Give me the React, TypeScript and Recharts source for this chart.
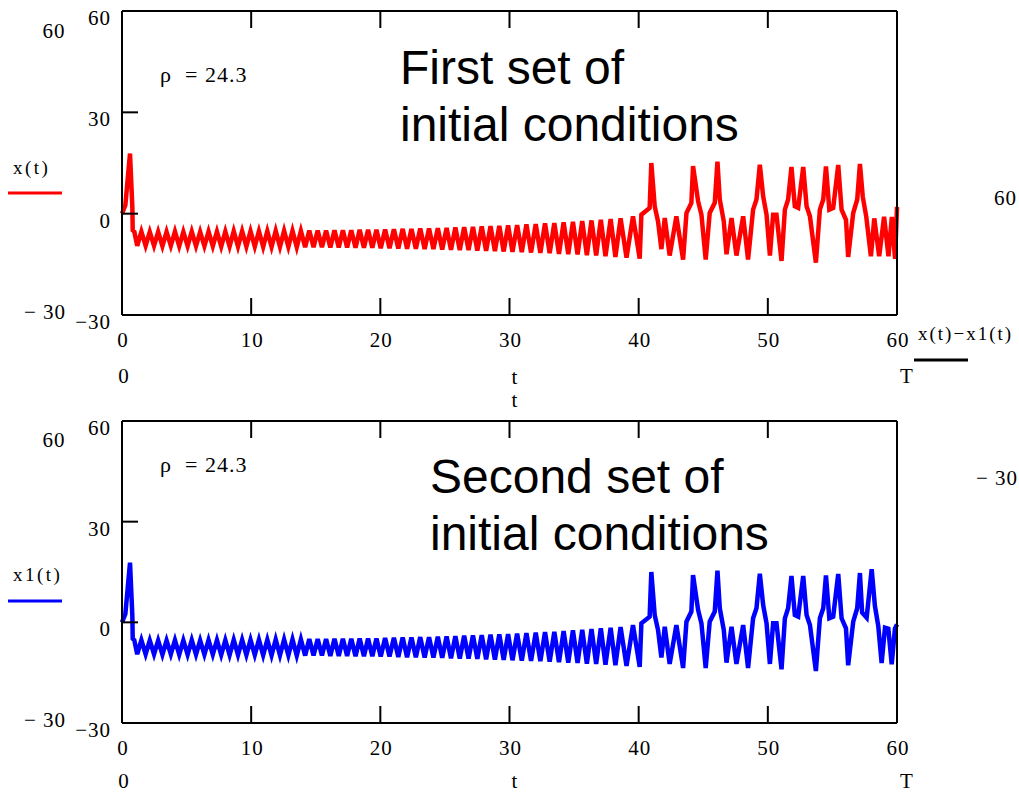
import { LineChart, Line, XAxis, YAxis } from "recharts"

const SERIF = "'Liberation Serif', 'Times New Roman', serif"
const SANS = "'Liberation Sans', Arial, sans-serif"

const xTicks = [0, 10, 20, 30, 40, 50, 60]
const yTicks = [-30, 0, 30, 60]

// [t, x]
const launch: [number, number][] = [
  [0, 0], [0.26, 2.5], [0.62, 17.8], [0.8, 2], [0.83, -4.9], [0.95, -5.3],
]

const spiral: [number, number][] = [
  [1.18, -9.5], [1.5, -5.3], [1.83, -9.5], [2.15, -5.4], [2.48, -9.5], [2.8, -5.4],
  [3.13, -9.6], [3.45, -5.4], [3.78, -9.5], [4.1, -5.3], [4.43, -9.6], [4.75, -5.4],
  [5.08, -9.6], [5.4, -5.3], [5.73, -9.6], [6.05, -5.4], [6.38, -9.6], [6.7, -5.3],
  [7.03, -9.6], [7.35, -5.3], [7.68, -9.7], [8.0, -5.3], [8.33, -9.7], [8.65, -5.2],
  [8.98, -9.7], [9.3, -5.2], [9.63, -9.7], [9.95, -5.2], [10.28, -9.7], [10.6, -5.2],
  [10.93, -9.8], [11.25, -5.2], [11.58, -9.8], [11.9, -5.1], [12.23, -9.8], [12.55, -5.1],
  [12.88, -9.8], [13.2, -5.1], [13.53, -9.9], [13.85, -5.1], [14.18, -9.9], [14.5, -5.0],
  [14.83, -9.9], [15.15, -5.0], [15.48, -9.9], [15.8, -5.0], [16.13, -10.0], [16.45, -4.9],
  [16.78, -10.0], [17.1, -4.9], [17.43, -10.0], [17.75, -4.9], [18.08, -10.1], [18.4, -4.8],
  [18.73, -10.1], [19.05, -4.8], [19.38, -10.1], [19.7, -4.8], [20.03, -10.2], [20.37, -4.7],
  [20.71, -10.2], [21.05, -4.6], [21.39, -10.3], [21.73, -4.5], [22.07, -10.4], [22.41, -4.5],
  [22.75, -10.4], [23.09, -4.4], [23.43, -10.5], [23.77, -4.4], [24.11, -10.5], [24.45, -4.3],
  [24.79, -10.6], [25.13, -4.2], [25.47, -10.7], [25.81, -4.1], [26.15, -10.8], [26.49, -4.0],
  [26.83, -10.8], [27.17, -3.9], [27.51, -10.9], [27.85, -3.8], [28.19, -11.0], [28.53, -3.7],
  [28.87, -11.1], [29.21, -3.6], [29.55, -11.2], [29.89, -3.5], [30.23, -11.3], [30.59, -3.4],
  [30.95, -11.4], [31.31, -3.2], [31.67, -11.5], [32.03, -3.1], [32.39, -11.6], [32.75, -2.9],
  [33.11, -11.7], [33.47, -2.8], [33.83, -11.9], [34.19, -2.6], [34.55, -12.0], [34.91, -2.4],
  [35.27, -12.1], [35.63, -2.2], [35.99, -12.3], [36.35, -2.0], [36.71, -12.4], [37.07, -1.8],
  [37.43, -12.6], [37.83, -1.6], [38.2, -12.8], [38.6, -1.4], [39.06, -13.0], [39.56, -0.8],
  [40.08, -13.3],
]

const chaos: [number, number][] = [
  [40.21, -0.3], [40.85, 1.7], [40.98, 15.0], [41.24, 2.2], [41.5, -2.3], [41.76, -10.5],
  [42.02, -1.3], [42.4, -12.4], [42.92, -0.8], [43.44, -13.6], [43.7, 0.2], [44.08, 3.2],
  [44.21, 14.1], [44.6, 3.7], [44.86, -0.3], [45.19, -13.6], [45.5, 0.2], [45.89, 3.2],
  [46.1, 15.4], [46.28, 4.2], [46.59, -2.3], [46.8, -12.0], [47.19, -1.3], [47.57, -12.4],
  [48.09, -0.8], [48.47, -13.6], [48.86, 1.2], [49.12, 4.2], [49.38, 14.5], [49.64, 5.1],
  [49.9, -0.3], [50.16, -12.4], [50.41, -0.3], [50.67, -0.3], [51.06, -14.0], [51.32, 1.2],
  [51.57, 4.2], [51.83, 13.8], [52.09, 2.2], [52.35, 1.7], [52.74, 13.8], [53.0, 2.2],
  [53.26, -0.8], [53.72, -14.5], [54.03, 1.2], [54.29, 4.2], [54.5, 14.0], [54.76, 1.2],
  [55.06, 1.7], [55.45, 14.4], [55.71, 1.2], [56.05, -1.8], [56.22, -12.8], [56.61, 0.2],
  [56.92, 4.2], [57.13, 14.7],
]

const tailRed: [number, number][] = [
  [57.35, 5.0], [57.62, -0.9], [57.98, -12.6], [58.24, -1.4], [58.62, -12.6], [59.0, -0.9],
  [59.34, -12.6], [59.6, -1.0], [59.85, -13.4], [60, 2.0],
]

const tailBlue: [number, number][] = [
  [57.3, 2.9], [57.65, 1.4], [58.04, 15.8], [58.29, 4.9], [58.55, -1.1], [58.81, -12.1],
  [59.07, -1.6], [59.33, -1.9], [59.59, -12.5], [59.84, -1.9], [60, -0.6],
]

const toRows = (pts: [number, number][]) => pts.map(([t, x]) => ({ t, x }))
const redData = toRows([...launch, ...spiral, ...chaos, ...tailRed])
const blueData = toRows([...launch, ...spiral, ...chaos, ...tailBlue])

const fmt = (v: number) => (v < 0 ? `\u2212${-v}` : `${v}`)

const NUM = { fontSize: 21, fontFamily: SERIF, letterSpacing: 1, fill: "#000" }

const BottomTick = (p: any) => {
  const v = p.payload.value
  return (
    <g>
      {v > 0 && v < 60 && <line x1={p.x} x2={p.x} y1={p.y} y2={p.y - 17} stroke="#000" strokeWidth={2} />}
      <text x={p.x + 1} y={p.y + 32} textAnchor="middle" {...NUM}>
        {fmt(v)}
      </text>
    </g>
  )
}

const TopTick = (p: any) => {
  const v = p.payload.value
  if (v <= 0 || v >= 60) return <g />
  return <line x1={p.x} x2={p.x} y1={p.y} y2={p.y + 17} stroke="#000" strokeWidth={2} />
}

const LeftTick = (p: any) => {
  const v = p.payload.value
  return (
    <g>
      {v > -30 && v < 60 && <line x1={p.x} x2={p.x + 16} y1={p.y} y2={p.y} stroke="#000" strokeWidth={2} />}
      <text x={p.x - 11} y={p.y + 14} textAnchor="end" {...NUM}>
        {fmt(v)}
      </text>
    </g>
  )
}

const RightTick = (p: any) => {
  const v = p.payload.value
  if (v <= -30 || v >= 60) return <g />
  return <line x1={p.x} x2={p.x - 16} y1={p.y} y2={p.y} stroke="#000" strokeWidth={2} />
}

const frame = { stroke: "#000", strokeWidth: 2 }

// axes are 1px thick, so margins are one less than the plot-area edges
function Panel({ data, color, height, top, bottom }: any) {
  return (
    <LineChart width={1019} height={height} data={data} margin={{ top: top - 1, right: 121, bottom: bottom - 1, left: 121 }}>
      <XAxis xAxisId="b" type="number" dataKey="t" domain={[0, 60]} ticks={xTicks} interval={0}
        height={1} tickSize={0} tickMargin={0} tickLine={false} axisLine={frame} tick={BottomTick} />
      <XAxis xAxisId="top" orientation="top" type="number" dataKey="t" domain={[0, 60]} ticks={xTicks}
        interval={0} height={1} tickSize={0} tickMargin={0} tickLine={false} axisLine={frame} tick={TopTick} />
      <YAxis yAxisId="l" type="number" domain={[-30, 60]} ticks={yTicks} interval={0} width={1}
        tickSize={0} tickMargin={0} tickLine={false} axisLine={frame} tick={LeftTick} />
      <YAxis yAxisId="r" orientation="right" type="number" domain={[-30, 60]} ticks={yTicks} interval={0}
        width={1} tickSize={0} tickMargin={0} tickLine={false} axisLine={frame} tick={RightTick} />
      <Line xAxisId="b" yAxisId="l" type="linear" dataKey="x" stroke={color} strokeWidth={4.5}
        dot={false} activeDot={false} isAnimationActive={false} />
    </LineChart>
  )
}

export default function App() {
  const t = (x: number, y: number, s: string, size = 21, anchor = "start", family = SERIF, ls = 1) => (
    <text x={x} y={y} fontSize={size} fontFamily={family} textAnchor={anchor as any} letterSpacing={ls} fill="#000">{s}</text>
  )
  return (
    <div style={{ position: "absolute", left: 0, top: 0, width: 1019, height: 793, background: "#fff", overflow: "hidden" }}>
      <div style={{ position: "absolute", left: 0, top: 0 }}>
        <Panel data={redData} color="#ff0000" height={400} top={11} bottom={85} />
      </div>
      <div style={{ position: "absolute", left: 0, top: 400 }}>
        <Panel data={blueData} color="#0000ff" height={393} top={21} bottom={70} />
      </div>
      <svg width={1019} height={793} style={{ position: "absolute", left: 0, top: 0, pointerEvents: "none" }}>
        {/* first panel */}
        {t(54, 38, "60", 21, "middle")}
        {t(66, 319, "\u2212 30", 21, "end")}
        {t(13, 174, "x(t)", 19, "start", SERIF, 2.5)}
        <line x1={8} x2={62} y1={193} y2={193} stroke="#ff0000" strokeWidth={3} />
        {t(124, 383, "0", 21, "middle")}
        {t(515, 384, "t", 21, "middle")}
        {t(907, 383, "T", 21, "middle")}
        {t(515, 407, "t", 21, "middle")}
        {t(160, 82, "\u03c1", 22)}
        {t(185, 82, "= 24.3", 22)}
        {t(400, 84, "First set of", 48, "start", SANS, 0)}
        {t(400, 141, "initial conditions", 48, "start", SANS, 0)}
        {/* cut-off third panel on the right */}
        {t(918, 340, "x(t)\u2212x1(t)", 19, "start", SERIF, 2)}
        <line x1={914} x2={968} y1={360} y2={360} stroke="#000" strokeWidth={3} />
        {t(994, 205, "60", 21)}
        {t(976, 485, "\u2212 30", 21)}
        {/* second panel */}
        {t(54, 447, "60", 21, "middle")}
        {t(66, 727, "\u2212 30", 21, "end")}
        {t(13, 581, "x1(t)", 19, "start", SERIF, 2.5)}
        <line x1={8} x2={62} y1={601} y2={601} stroke="#0000ff" strokeWidth={3} />
        {t(124, 788, "0", 21, "middle")}
        {t(515, 788, "t", 21, "middle")}
        {t(907, 788, "T", 21, "middle")}
        {t(160, 472, "\u03c1", 22)}
        {t(185, 472, "= 24.3", 22)}
        {t(430, 493, "Second set of", 48, "start", SANS, 0)}
        {t(430, 550, "initial conditions", 48, "start", SANS, 0)}
      </svg>
    </div>
  )
}
